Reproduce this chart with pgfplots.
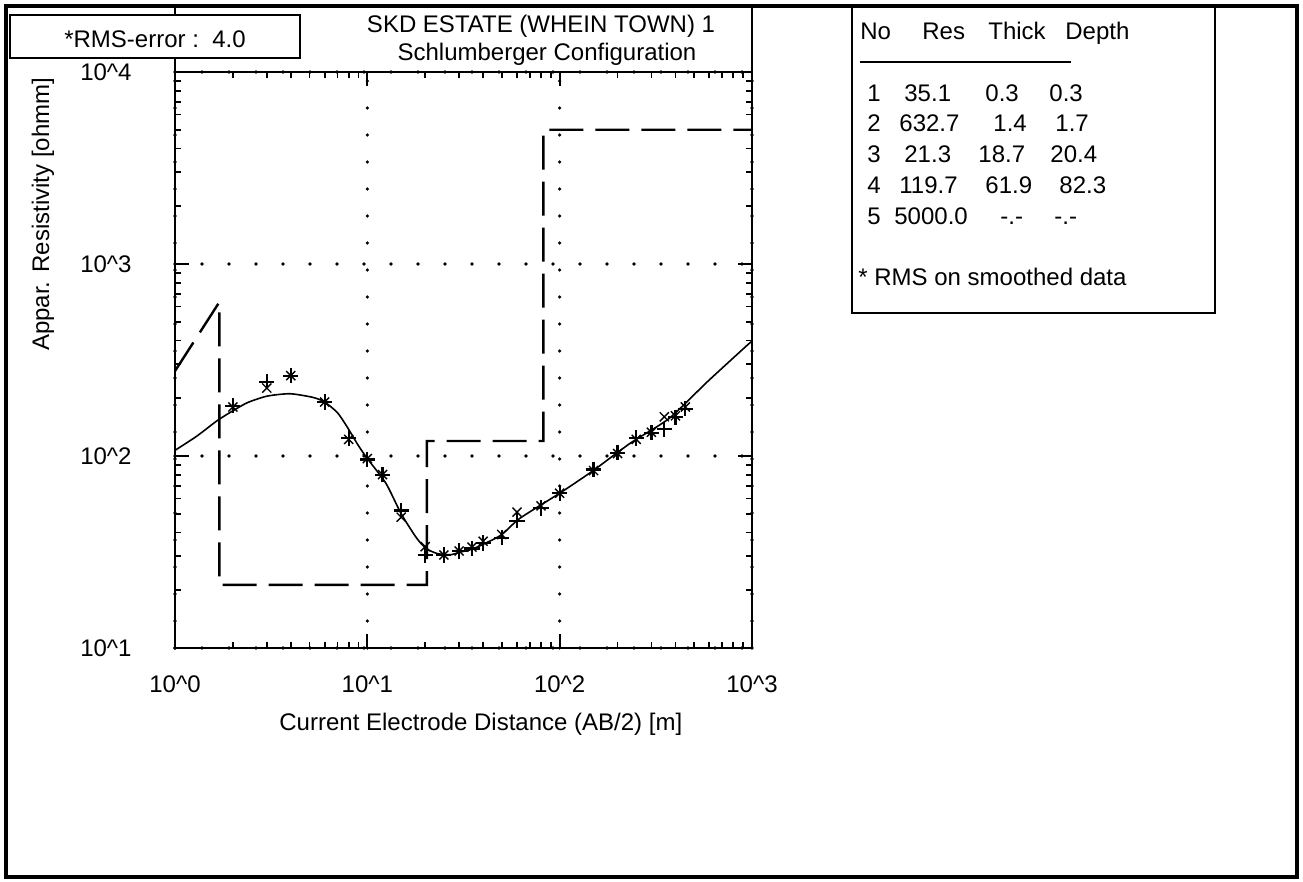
\documentclass[border=0pt]{standalone}
\usepackage{fontspec}
\setmainfont{Liberation Sans}
\usepackage{pgfplots}
\pgfplotsset{compat=1.18}
\newcommand\fs{\fontsize{12}{14}\selectfont}
\begin{document}
\begin{tikzpicture}
\useasboundingbox (0,0) rectangle (651.5pt,-441pt);
\fill[white] (0,0) rectangle (651.5pt,-441pt);
\begin{axis}[
  at={(87.5pt,-324pt)}, anchor=south west,
  scale only axis, width=288.5pt, height=288pt,
  xmode=log, ymode=log,
  xmin=1, xmax=1000, ymin=10, ymax=10000,
  xtick={1,10,100,1000},
  xticklabels={\mbox{10\textasciicircum0},\mbox{10\textasciicircum1},\mbox{10\textasciicircum2},\mbox{10\textasciicircum3}},
  ytick={10,100,1000,10000},
  yticklabels={\mbox{10\textasciicircum1},\mbox{10\textasciicircum2},\mbox{10\textasciicircum3},\mbox{10\textasciicircum4}},
  tick label style={font=\fs, inner sep=0pt},
  xticklabel style={anchor=north, yshift=-13.5pt},
  yticklabel style={anchor=east, xshift=-21.5pt},
  grid=major,
  major grid style={line width=1.8pt, dash pattern=on 0pt off 13.5pt, line cap=round, black},
  axis line style={line width=1.2pt},
  tick align=inside,
  major tick length=7pt, minor tick length=3pt,
  every tick/.style={black, line width=0.9pt},
  xlabel={Current Electrode Distance (AB/2) [m]},
  ylabel={Appar. Resistivity [ohmm]},
  label style={font=\fs},
  xlabel style={at={(axis description cs:0.530,-0.132)}, anchor=center},
  ylabel style={at={(axis description cs:-0.229,0.753)}, anchor=center, rotate=0},
]
% layered model (dashed)
\addplot[black, line width=1.2pt, dash pattern=on 17pt off 6pt] coordinates {
 (1,277) (1.7,632.7) (1.7,21.3) (20.4,21.3) (20.4,119.7) (82.3,119.7) (82.3,5000) (1000,5000)};
% computed curve
\addplot[black, line width=0.8pt, smooth, tension=0.4] coordinates {
 (1,107) (1.3,127) (1.66,153) (2,172) (2.39,190) (3.01,205) (3.96,211) (5.21,202)
 (6,191) (7,168) (7.88,141) (9,113) (10,97) (12.5,72) (15,50) (18,37.5) (20.2,33)
 (23.2,31) (27.2,30.6) (30,31.5) (35.8,33) (49.3,38.6) (62,47.3) (100,64) (148,83.4)
 (234,117) (371,157) (587,244) (951,380) (1000,395)};
% smoothed data (x)
\addplot[black, only marks, mark=x, mark size=3.2pt, line width=0.7pt] coordinates {
 (2,180) (3,226) (4,262) (6,191) (8,122) (10,97) (12,80) (15,48) (20,33.7) (25,30.5)
 (30,32) (35,33.5) (40,36) (50,39) (60,51) (80,55) (100,64) (150,84) (200,103)
 (250,122) (300,133) (350,160) (400,162) (450,180)};
% measured data (+)
\addplot[black, only marks, mark=+, mark size=3.8pt, line width=1.1pt] coordinates {
 (2,183) (3,244) (4,262) (6,191) (8,124) (10,96) (12,80) (15,52) (20,30.4) (25,30.5)
 (30,32) (35,33) (40,35.2) (50,37.5) (60,46) (80,53.6) (100,64) (150,85) (200,104)
 (250,124) (300,132) (350,138) (400,159) (450,176)};
\end{axis}
\begin{scope}[x=0.5pt,y=-0.5pt]
 \draw[line width=2pt] (6,6) rectangle (1297,877);
 \draw[line width=1.2pt] (175,6) -- (175,72);
 \draw[line width=1.2pt] (752,6) -- (752,72);
 \draw[line width=1pt, fill=white] (10,15) rectangle (300,58);
 \node[font=\fs, anchor=base] at (155,48) {*RMS-error :\ \ 4.0};
 \node[font=\fs, anchor=base] at (541,33) {SKD ESTATE (WHEIN TOWN) 1};
 \node[font=\fs, anchor=base] at (547,61) {Schlumberger Configuration};
 % table
 \draw[line width=1pt] (852,6) rectangle (1215,313);
 \draw[line width=0.6pt] (860,62) -- (1071,62);
 \begin{scope}[every node/.style={font=\fs, anchor=base west, inner sep=0pt}]
  \node at (860,40) {No};
  \node at (922,40) {Res};
  \node at (988,40) {Thick};
  \node at (1065,40) {Depth};
  \node at (867,102) {1}; \node at (904,102) {35.1}; \node at (985,102) {0.3}; \node at (1049,102) {0.3};
  \node at (867,132) {2}; \node at (899,132) {632.7}; \node at (993,132) {1.4}; \node at (1055,132) {1.7};
  \node at (867,163) {3}; \node at (904,163) {21.3}; \node at (978,163) {18.7}; \node at (1050,163) {20.4};
  \node at (867,194) {4}; \node at (899,194) {119.7}; \node at (985,194) {61.9}; \node at (1059,194) {82.3};
  \node at (867,225) {5}; \node at (894,225) {5000.0}; \node at (1000,225) {-.-}; \node at (1054,225) {-.-};
  \node at (858,286) {* RMS on smoothed data};
 \end{scope}
\end{scope}
\end{tikzpicture}
\end{document}
